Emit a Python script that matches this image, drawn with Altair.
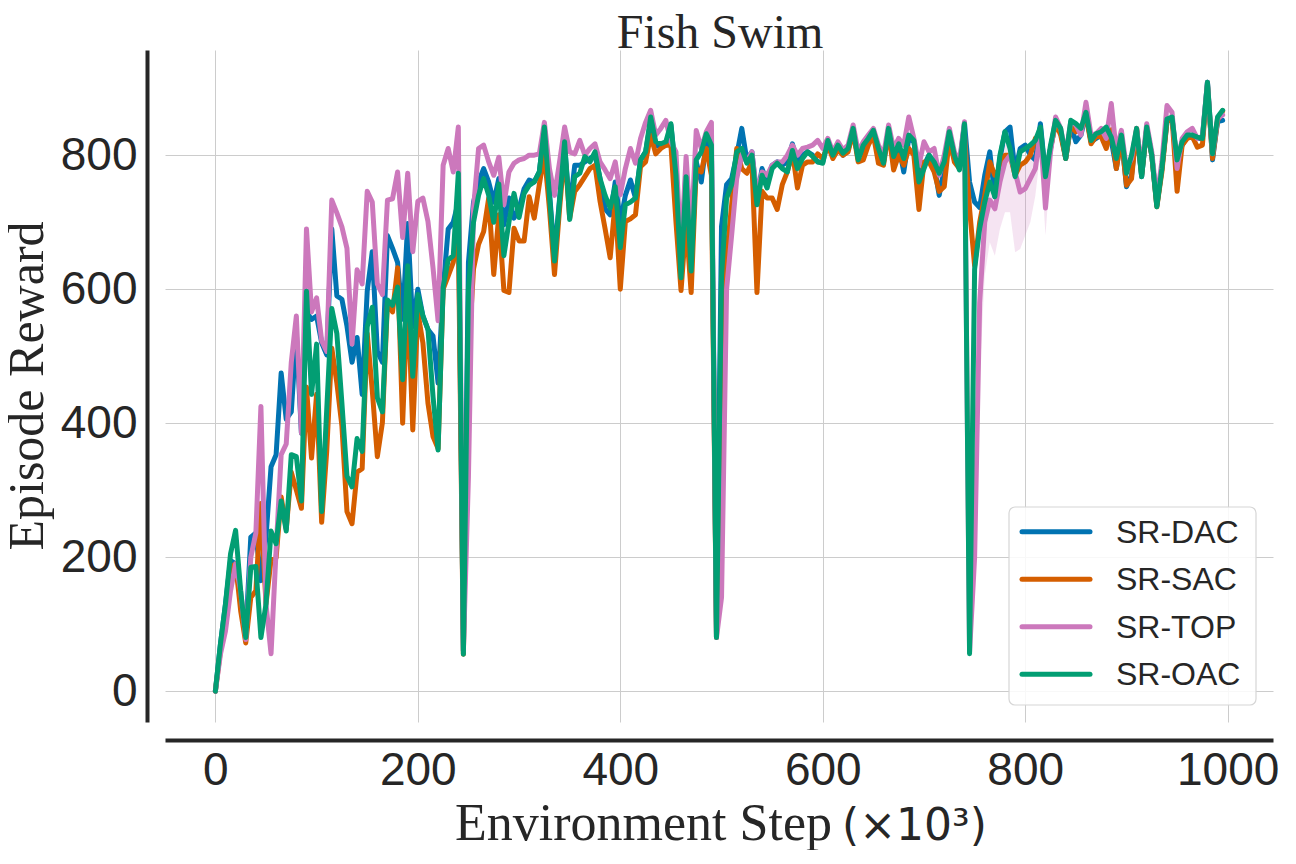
import altair as alt
import pandas as pd

steps = list(range(0, 1000, 5))

sr_dac = [
    0, 70, 130, 195, 190, 140, 85, 230, 236, 165,
    230, 335, 353, 475, 406, 417, 534, 385, 566, 555,
    560, 520, 502, 690, 590, 585, 545, 491, 528, 443,
    597, 656, 507, 491, 680, 661, 640, 555, 698, 544,
    600, 560, 540, 530, 460, 600, 690, 700, 730, 60,
    640, 730, 760, 780, 760, 730, 765, 696, 736, 706,
    720, 750, 763, 760, 775, 840, 745, 650, 735, 815,
    720, 785, 785, 790, 795, 800, 765, 720, 711, 760,
    700, 740, 763, 736, 793, 805, 850, 815, 812, 815,
    845, 770, 640, 780, 660, 790, 760, 820, 810, 80,
    694, 756, 765, 800, 840, 793, 805, 735, 780, 760,
    785, 790, 785, 790, 817, 790, 800, 805, 800, 790,
    790, 820, 800, 812, 800, 808, 838, 795, 810, 825,
    835, 810, 790, 838, 795, 815, 775, 825, 820, 765,
    785, 800, 785, 740, 780, 835, 800, 785, 848, 760,
    730, 722, 770, 805, 738, 795, 835, 842, 775, 810,
    815, 800, 793, 847, 770, 810, 850, 835, 795, 845,
    820, 830, 862, 820, 825, 830, 840, 822, 780, 828,
    753, 770, 838, 768, 840, 800, 725, 780, 850, 855,
    790, 815, 828, 826, 825, 825, 909, 793, 850, 852,
]

sr_sac = [
    0, 60, 110, 185, 190, 120, 72, 140, 150, 280,
    130, 196, 199, 290, 242, 327, 300, 273, 454, 348,
    443, 252, 358, 512, 460, 396, 268, 250, 327, 332,
    534, 449, 350, 401, 581, 566, 632, 400, 597, 390,
    566, 520, 430, 380, 362, 600, 620, 640, 690, 55,
    500, 630, 667, 686, 736, 622, 711, 598, 595, 691,
    672, 672, 738, 706, 756, 802, 720, 622, 720, 807,
    706, 746, 756, 768, 780, 785, 731, 690, 647, 731,
    600, 701, 705, 711, 783, 790, 830, 802, 810, 815,
    815, 700, 598, 700, 595, 780, 775, 810, 770, 80,
    400, 650, 726, 810, 780, 773, 790, 595, 746, 736,
    736, 719, 756, 775, 805, 751, 785, 790, 790, 802,
    795, 815, 795, 808, 800, 805, 835, 790, 793, 815,
    830, 788, 785, 835, 778, 800, 785, 810, 800, 719,
    790, 790, 775, 746, 753, 825, 790, 780, 830, 720,
    635, 700, 740, 790, 770, 780, 800, 800, 770, 785,
    790, 800, 825, 830, 765, 810, 848, 830, 795, 845,
    835, 838, 860, 817, 828, 828, 810, 838, 780, 826,
    755, 765, 840, 770, 840, 800, 723, 775, 850, 857,
    746, 815, 825, 828, 812, 815, 905, 795, 852, 866,
]

sr_top = [
    0, 55, 90, 150, 190, 150, 77, 200, 236, 425,
    130, 56, 210, 353, 369, 491, 560, 385, 690, 566,
    587, 523, 507, 733, 714, 693, 661, 518, 629, 608,
    746, 730, 608, 592, 733, 735, 775, 677, 773, 656,
    731, 736, 701, 632, 553, 785, 810, 775, 842, 60,
    320, 720, 810, 815, 790, 770, 797, 726, 775, 788,
    793, 795, 800, 800, 802, 849, 780, 740, 790, 842,
    805, 802, 822, 800, 810, 817, 790, 778, 765, 790,
    741, 780, 810, 788, 825, 849, 867, 830, 840, 852,
    820, 805, 652, 798, 680, 837, 810, 835, 849, 80,
    140, 600, 681, 765, 800, 790, 805, 740, 775, 770,
    785, 790, 790, 800, 815, 800, 810, 812, 815, 822,
    810, 825, 805, 820, 808, 815, 845, 805, 820, 830,
    840, 815, 800, 845, 810, 825, 815, 857, 825, 785,
    820, 805, 810, 770, 800, 840, 805, 790, 850, 58,
    200, 580, 700, 733, 720, 760, 790, 800, 775, 745,
    750, 765, 780, 835, 721, 805, 857, 840, 800, 850,
    845, 830, 879, 830, 832, 840, 825, 877, 805, 837,
    780, 795, 840, 780, 847, 805, 735, 790, 874, 864,
    780, 825, 835, 840, 825, 828, 909, 802, 855, 860,
]

sr_oac = [
    0, 70, 130, 205, 240, 150, 80, 185, 186, 80,
    130, 239, 220, 284, 239, 353, 350, 284, 597, 443,
    518, 268, 420, 571, 534, 430, 321, 305, 377, 358,
    544, 573, 438, 417, 584, 576, 603, 465, 635, 470,
    592, 560, 540, 440, 360, 603, 644, 650, 773, 55,
    600, 700, 740, 765, 740, 700, 757, 650, 700, 743,
    707, 743, 755, 760, 775, 842, 740, 642, 731, 820,
    704, 768, 773, 798, 790, 805, 765, 740, 721, 753,
    662, 726, 730, 736, 793, 805, 857, 820, 817, 820,
    847, 770, 617, 768, 627, 793, 805, 832, 815, 80,
    620, 736, 756, 805, 810, 788, 800, 726, 770, 751,
    780, 788, 780, 775, 807, 780, 795, 805, 798, 790,
    788, 822, 800, 815, 803, 810, 840, 793, 815, 825,
    837, 810, 788, 840, 798, 817, 795, 830, 822, 760,
    780, 800, 790, 773, 790, 835, 800, 778, 847, 56,
    630, 691, 730, 760, 738, 800, 835, 810, 768, 805,
    810, 815, 822, 842, 768, 815, 852, 840, 795, 852,
    847, 840, 864, 822, 832, 835, 842, 827, 795, 830,
    773, 800, 840, 768, 842, 800, 723, 780, 854, 857,
    793, 820, 830, 830, 827, 825, 909, 802, 857, 867,
]

# visible confidence band of SR-TOP after the third collapse
top_band_steps = [750, 755, 760, 765, 770, 775, 780, 785, 790, 795, 800, 805, 810, 815, 820, 825, 830]
top_band_lo = [120, 470, 620, 670, 650, 690, 715, 715, 655, 660, 680, 700, 740, 805, 680, 785, 845]
top_band_hi = [300, 650, 745, 765, 750, 790, 815, 820, 805, 790, 785, 795, 815, 855, 755, 825, 865]

series_names = ["SR-DAC", "SR-SAC", "SR-TOP", "SR-OAC"]
series_colors = ["#0173b2", "#d55e00", "#cc78bc", "#029e73"]
x_ticks = [0, 200, 400, 600, 800, 1000]
y_ticks = [0, 200, 400, 600, 800]

all_series = [sr_dac, sr_sac, sr_top, sr_oac]
for vals in all_series:
    assert len(vals) == len(steps), len(vals)

rows = []
for name, vals in zip(series_names, all_series):
    for s, v in zip(steps, vals):
        rows.append({"step": s, "reward": v, "series": name})
df = pd.DataFrame(rows)

band_df = pd.DataFrame({"step": top_band_steps, "lo": top_band_lo, "hi": top_band_hi})

W, H = 1108, 672
DARK = "#262626"
LW = 5

xscale = alt.Scale(domain=[-49.75, 1044.75], nice=False, zero=False)
yscale = alt.Scale(domain=[-46, 957], nice=False, zero=False)

x_axis = alt.Axis(values=x_ticks, format="d", title=None, grid=True, ticks=False, domain=True,
                  offset=18, labelFontSize=46, labelFont="Liberation Sans",
                  labelColor=DARK, labelPadding=8, domainColor=DARK, domainWidth=4,
                  gridColor="#cccccc", gridWidth=1, labelFlush=False, labelOverlap=False)
y_axis = alt.Axis(values=y_ticks, format="d", title=None, grid=True, ticks=False, domain=True,
                  offset=18, labelFontSize=46, labelFont="Liberation Sans",
                  labelColor=DARK, labelPadding=10, domainColor=DARK, domainWidth=4,
                  gridColor="#cccccc", gridWidth=1, labelFlush=False, labelOverlap=False)

color = alt.Color("series:N", scale=alt.Scale(domain=series_names, range=series_colors),
                  legend=None)

band = alt.Chart(band_df).mark_area(color=series_colors[2], opacity=0.2).encode(
    x=alt.X("step:Q", scale=xscale, axis=x_axis),
    y=alt.Y("lo:Q", scale=yscale, axis=y_axis),
    y2="hi:Q",
)

lines = []
for name in series_names:
    lines.append(
        alt.Chart(df).transform_filter(alt.datum.series == name)
        .mark_line(strokeWidth=LW, strokeJoin="round", strokeCap="round")
        .encode(
            x=alt.X("step:Q", scale=xscale, axis=x_axis),
            y=alt.Y("reward:Q", scale=yscale, axis=y_axis),
            color=color,
        )
    )


def text_layer(txt, x, y, **kw):
    return alt.Chart(pd.DataFrame({"t": [txt]})).mark_text(**kw).encode(
        text="t:N", x=alt.value(x), y=alt.value(y))


title_t = text_layer("Fish Swim", W / 2 + 1, -2, font="Liberation Serif", fontSize=48,
                     color=DARK, align="center", baseline="alphabetic")
ytitle_t = text_layer("Episode Reward", -122, H / 2, font="Liberation Serif", fontSize=50,
                      color=DARK, align="center", baseline="alphabetic", angle=270)
xtitle_a = text_layer("Environment Step", 667, 790, font="Liberation Serif", fontSize=52,
                      color=DARK, align="right", baseline="alphabetic")
xtitle_b = text_layer("(×10³)", 677, 790, font="DejaVu Sans", fontSize=44,
                      color=DARK, align="left", baseline="alphabetic")

# legend drawn by hand (box, line samples, labels)
LEG_X0, LEG_X1, LEG_Y0, LEG_Y1 = 844, 1091, 457, 655
leg_rows = [481.7, 529.3, 576.7, 624.3]
legend_box = alt.Chart(pd.DataFrame({"t": ["legend"]})).mark_rect(
    fill="white", fillOpacity=0.85, stroke="#d6d6d6", strokeWidth=1.2, cornerRadius=6
).encode(x=alt.value(LEG_X0), x2=alt.value(LEG_X1), y=alt.value(LEG_Y0), y2=alt.value(LEG_Y1))

legend_layers = [legend_box]
for name, col, ry in zip(series_names, series_colors, leg_rows):
    legend_layers.append(
        alt.Chart(pd.DataFrame({"series": [name]})).mark_rule(
            color=col, strokeWidth=LW, strokeCap="round"
        ).encode(x=alt.value(857), x2=alt.value(925), y=alt.value(ry))
    )
    legend_layers.append(
        text_layer(name, 951, ry + 1, font="Liberation Sans", fontSize=32, color=DARK,
                   align="left", baseline="middle")
    )

chart = alt.layer(band, *lines, title_t, ytitle_t, xtitle_a, xtitle_b, *legend_layers).properties(
    width=W, height=H,
    padding={"left": 157, "top": 42, "right": 10, "bottom": 128},
    autosize=alt.AutoSizeParams(type="none"),
    background="white",
).configure_view(stroke=None)

chart.save("out.html", embed_options={"renderer": "svg", "actions": False})
